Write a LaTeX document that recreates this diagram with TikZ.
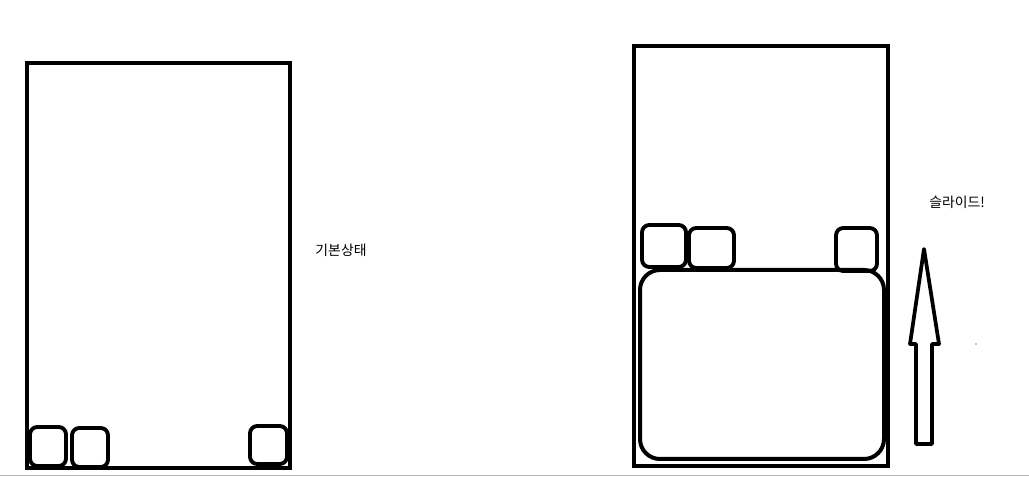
\documentclass[tikz,border=0pt]{standalone}
\usepackage{fontspec}
\newfontfamily\krfont{Noto Sans CJK KR}
\usepackage{tikz}

\begin{document}
\begin{tikzpicture}[x=0.75pt, y=-0.75pt,
	phone/.style={line width=3.4pt},
	key/.style={line width=2.9pt, rounded corners=5.5pt},
	label/.style={font=\krfont\fontsize{10.4}{12}\selectfont, inner sep=0pt}]
	\useasboundingbox (0,0) rectangle (1029,477);
	\fill[white] (0,0) rectangle (1029,477);
	\draw[color={rgb,255:red,170;green,185;blue,200}, line width=1pt] (0,475.5) -- (1029,475.5);
	
	% left: default state
	\draw[phone] (27,63) rectangle (290,468);
	\draw[key] (30,427) rectangle (66,466);
	\draw[key] (72,428) rectangle (108,467);
	\draw[key] (250,426) rectangle (287,464);
	\node[label] (basic) at (341,250) {기본상태};
	
	% right: slid up
	\draw[phone] (634,46) rectangle (888,466);
	\draw[key] (642,225) rectangle (686,267);
	\draw[key] (689,228) rectangle (734,268);
	\draw[key] (836,228) rectangle (877,271);
	\draw[line width=3pt, rounded corners=15pt] (640,270) rectangle (884,459);
	\node[label] (slide) at (957,202) {슬라이드!};
	
	% arrow
	\draw[line width=2.8pt, line join=round] (924,249) -- (939,344) -- (932,344) -- (932,444)
		-- (916,444) -- (916,344) -- (910,344) -- cycle;
	\fill (976,344) circle (0.6);
\end{tikzpicture}
\end{document}
